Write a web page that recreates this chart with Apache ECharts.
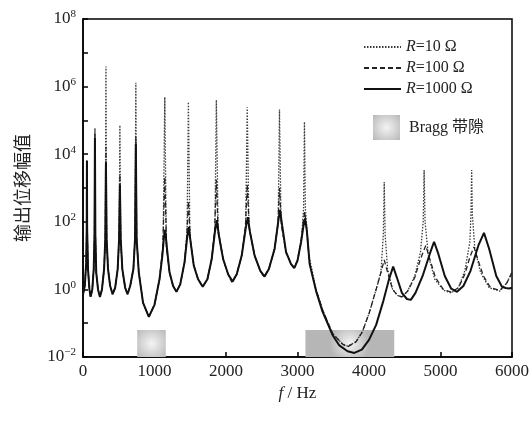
<!DOCTYPE html>
<html><head><meta charset="utf-8">
<script src="https://cdn.jsdelivr.net/npm/echarts@6/dist/echarts.min.js"></script>
<style>html,body{margin:0;padding:0;background:#fff}#c{width:532px;height:421px}</style>
</head><body><div id="c"></div>
<script>
// ---- data ----
const seriesNames = ['R=10 Ω', 'R=100 Ω', 'R=1000 Ω'];

const freqR10 = [0,25,45,52,55,58,70,90,107,130,150,161,167,173,185,210,237,265,295,312,321,330,350,380,414,450,485,505,516,527,550,590,623,660,705,728,739,750,780,840,921,1000,1070,1120,1144,1165,1210,1260,1307,1360,1420,1455,1474,1495,1550,1610,1674,1740,1800,1845,1865,1890,1960,2030,2080,2150,2220,2275,2297,2320,2400,2480,2530,2600,2680,2730,2748,2770,2840,2910,2950,3000,3060,3085,3097,3110,3160,3260,3350,3490,3630,3700,3818,3908,4003,4097,4167,4200,4213,4226,4260,4330,4400,4460,4540,4640,4720,4758,4771,4784,4830,4920,5040,5150,5250,5340,5410,5426,5436,5446,5480,5560,5680,5830,5930,6000];
const ampR10 = [0.71,1.26,6.3,63,6800,63,4.0,1.0,0.6,1.0,4.0,40,59000,40,3.2,1.0,0.6,1.0,4.0,32,3.9e6,32,4.0,1.26,0.72,1.12,4.0,32,72000,32,4.0,1.12,0.72,1.26,4.0,32,1.3e6,32,3.2,0.4,0.155,0.35,2.0,20,4.9e5,20,3.2,1.26,0.85,1.41,6.3,50,3.5e5,40,5.0,2.0,1.2,2.0,7.9,63,4.0e5,63,7.9,2.8,1.66,2.8,10,79,2.45e5,79,10,3.55,2.4,4.0,16,100,2.1e5,100,12.6,5.6,4.3,7.1,40,250,9.1e4,250,10,1.0,0.25,0.05,0.024,0.021,0.028,0.056,0.2,0.955,3.2,40,1500,40,4.0,1.0,0.66,0.6,0.89,2.5,12.6,100,3400,100,10,2.0,0.955,0.79,1.12,3.55,25,160,3400,160,16,3.2,1.12,0.89,1.58,3.2];

const freqR100 = [0,25,45,52,55,58,70,90,107,130,150,161,167,173,185,210,237,265,295,312,321,330,350,380,414,450,485,505,516,527,550,590,623,660,705,728,739,750,780,840,921,1000,1070,1115,1144,1170,1210,1260,1307,1360,1420,1450,1474,1500,1550,1610,1674,1740,1800,1840,1865,1890,1960,2030,2080,2150,2220,2270,2297,2325,2400,2480,2530,2600,2680,2725,2748,2775,2840,2910,2950,3000,3050,3080,3100,3125,3167,3260,3350,3490,3630,3700,3818,3908,4003,4097,4167,4213,4260,4330,4400,4464,4540,4640,4720,4794,4850,4930,5040,5150,5250,5340,5410,5468,5520,5600,5700,5830,5930,6000];
const ampR100 = [0.71,1.26,6.3,63,6300,63,4.0,1.0,0.6,1.0,4.0,40,40000,40,3.2,1.0,0.6,1.0,4.0,32,16000,32,4.0,1.26,0.72,1.12,4.0,32,2500,32,4.0,1.12,0.72,1.26,4.0,32,32000,32,3.2,0.4,0.155,0.35,2.0,16,2100,16,3.2,1.26,0.85,1.41,6.3,32,400,32,5.0,2.0,1.2,2.0,7.9,50,1740,50,7.9,2.8,1.66,2.8,10,63,1260,63,10,3.55,2.4,4.0,16,79,1000,79,12.6,5.6,4.3,7.1,25,100,200,79,6.3,0.955,0.25,0.05,0.024,0.02,0.028,0.056,0.2,0.955,3.2,7.4,3.2,1.0,0.66,0.6,0.89,2.24,7.9,20,7.9,2.24,1.0,0.83,1.12,2.8,8.9,18,7.9,2.5,1.12,0.93,1.58,3.2];

const freqR1000 = [0,25,45,52,55,58,70,90,107,130,150,161,167,173,185,210,237,265,295,312,321,330,350,380,414,450,485,505,516,527,550,590,623,660,705,728,739,750,780,840,921,1000,1070,1110,1135,1150,1170,1210,1260,1307,1360,1420,1455,1480,1505,1550,1610,1674,1740,1800,1845,1872,1900,1960,2030,2093,2150,2220,2275,2305,2335,2400,2480,2540,2600,2680,2730,2755,2785,2840,2910,2957,3000,3050,3085,3105,3130,3170,3260,3350,3490,3585,3700,3795,3900,4000,4100,4200,4280,4338,4390,4460,4530,4585,4650,4750,4850,4910,4970,5060,5150,5231,5320,5420,5530,5608,5680,5780,5860,5911,5960,6000];
const ampR1000 = [0.71,1.26,6.3,63,6300,63,4.0,1.0,0.6,1.0,4.0,40,30000,40,3.2,1.0,0.6,1.0,4.0,32,5500,32,4.0,1.26,0.72,1.12,4.0,32,1260,32,4.0,1.12,0.72,1.26,4.0,32,20000,32,3.2,0.4,0.155,0.35,2.0,10,40,58,20,3.2,1.26,0.85,1.41,6.3,32,71,25,5.0,2.0,1.2,2.0,7.9,50,112,40,7.9,2.8,1.7,2.8,10,63,138,50,10,3.55,2.4,4.0,16,100,224,79,12.6,5.6,4.3,7.1,25,79,126,56,5.6,0.89,0.22,0.045,0.022,0.0148,0.0132,0.0166,0.032,0.089,0.45,2.0,4.7,2.24,0.79,0.52,0.49,0.79,2.5,11.2,25.7,11.2,2.5,1.05,0.85,1.26,3.55,20,47,16,2.5,1.2,1.1,1.07,1.12];

const braggStart = [758, 3111];
const braggEnd = [1158, 4353];
const braggLow = 0.01, braggHigh = 0.063;
const braggName = 'Bragg 带隙';

// ---- chart ----
const serif = '"Liberation Serif","DejaVu Serif",serif';
const cjk = '"Liberation Serif","Noto Sans CJK SC",serif';
const chart = echarts.init(document.getElementById('c'));
const grad = () => new echarts.graphic.RadialGradient(0.5, 0.5, 0.75, [
  {offset: 0, color: '#f4f4f4'}, {offset: 1, color: '#b6b6b6'}]);
const zip = (f, a) => f.map((x, i) => [x, a[i]]);

const option = {
  animation: false,
  backgroundColor: '#fff',
  grid: {left: 83, right: 19, top: 19, bottom: 64, show: true, borderColor: '#000', borderWidth: 1.5},
  xAxis: {
    type: 'value', min: 0, max: 6000, interval: 1000,
    axisLine: {lineStyle: {color: '#000', width: 1.5}},
    axisTick: {inside: true, length: 5, lineStyle: {color: '#000', width: 1.5}},
    splitLine: {show: false},
    axisLabel: {color: '#222', fontFamily: serif, fontSize: 17, margin: 6, formatter: v => String(v)},
    name: '{i|f}{n| / Hz}', nameLocation: 'middle', nameGap: 25,
    nameTextStyle: {rich: {
      i: {fontFamily: serif, fontStyle: 'italic', fontSize: 17, color: '#222'},
      n: {fontFamily: serif, fontSize: 17, color: '#222'}}}
  },
  yAxis: {
    type: 'log', logBase: 10, min: 0.01, max: 1e8, interval: 1,
    axisLine: {lineStyle: {color: '#000', width: 1.5}},
    axisTick: {inside: true, length: 5, lineStyle: {color: '#000', width: 1.5}},
    minorTick: {show: false},
    splitLine: {show: false},
    axisLabel: {
      margin: 7, showMinLabel: true, showMaxLabel: true, hideOverlap: false,
      formatter: v => {
        const e = Math.round(Math.log10(v));
        if (e % 2 !== 0) return '';
        return '{b|10}{s|' + (e < 0 ? '\u2212' + (-e) : e) + '}';
      },
      rich: {
        b: {fontFamily: serif, fontSize: 17, color: '#222', lineHeight: 20},
        s: {fontFamily: serif, fontSize: 11, color: '#222', verticalAlign: 'top', lineHeight: 20}
      }
    },
    name: '输出位移幅值', nameLocation: 'middle', nameGap: 52,
    nameTextStyle: {fontFamily: '"Noto Sans CJK SC"', fontSize: 18, color: '#222'}
  },
  legend: [{
    data: seriesNames, orient: 'vertical', left: 363, top: 39, padding: 0,
    itemWidth: 37, itemHeight: 14, itemGap: 5, selectedMode: false,
    itemStyle: {opacity: 0},
    formatter: n => '{i|R}{n|' + n.slice(1) + '}',
    textStyle: {rich: {
      i: {fontFamily: serif, fontStyle: 'italic', fontSize: 16, color: '#222'},
      n: {fontFamily: serif, fontSize: 16, color: '#222'}}}
  }, {
    data: [{name: braggName, icon: 'rect', itemStyle: {color: grad()}}],
    left: 373, top: 115, padding: 0, itemWidth: 27, itemHeight: 25, selectedMode: false,
    textStyle: {fontFamily: cjk, fontSize: 16, color: '#222', padding: [0, 0, 0, 4]}
  }],
  series: [
    {name: seriesNames[0], type: 'line', data: zip(freqR10, ampR10), symbol: 'none', z: 3,
     itemStyle: {color: '#3a3a3a'}, lineStyle: {color: '#3a3a3a', width: 1.3, type: [1.5, 1.5]}},
    {name: seriesNames[1], type: 'line', data: zip(freqR100, ampR100), symbol: 'none', z: 4,
     itemStyle: {color: '#222'}, lineStyle: {color: '#222', width: 1.3, type: [5, 3]}},
    {name: seriesNames[2], type: 'line', data: zip(freqR1000, ampR1000), symbol: 'none', z: 5,
     itemStyle: {color: '#111'}, lineStyle: {color: '#111', width: 2}},
    {name: braggName, type: 'line', data: [], symbol: 'none', z: 1,
     markArea: {silent: true, itemStyle: {color: grad()},
       data: braggStart.map((s, i) => [{xAxis: s, yAxis: braggLow}, {xAxis: braggEnd[i], yAxis: braggHigh}])}}
  ]
};
chart.setOption(option);
</script></body></html>
